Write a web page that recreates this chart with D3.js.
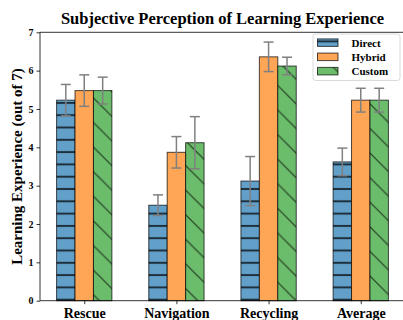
<!DOCTYPE html>
<html>
<head>
<meta charset="utf-8">
<script src="https://cdn.jsdelivr.net/npm/d3@7"></script>
<style>
  html, body { margin: 0; padding: 0; background: #fff; }
  svg { display: block; }
</style>
</head>
<body>
<svg id="chart" width="403" height="320"></svg>
<script>
const categories = ["Rescue", "Navigation", "Recycling", "Average"];
const seriesNames = ["Direct", "Hybrid", "Custom"];
const directValues = [5.23, 2.49, 3.12, 3.62];
const hybridValues = [5.48, 3.87, 6.36, 5.23];
const customValues = [5.48, 4.12, 6.12, 5.23];
const directErr = [0.41, 0.27, 0.64, 0.36];
const hybridErr = [0.41, 0.41, 0.385, 0.31];
const customErr = [0.35, 0.68, 0.23, 0.31];
const yTicks = [0, 1, 2, 3, 4, 5, 6, 7];
const titleText = "Subjective Perception of Learning Experience";
const yLabelText = "Learning Experience (out of 7)";

(function () {
const values = [directValues, hybridValues, customValues];
const errs = [directErr, hybridErr, customErr];
const colors = ["#62a0ca", "#ffa556", "#6bbc6b"];
const hatches = ["hatchH", null, "hatchD"];
const barW = 0.2;
const serif = "'Liberation Serif', 'Times New Roman', serif";

const svg = d3.select("#chart");
const pL = 40, pR = 405, pT = 32.3, pB = 300.7;

const x = d3.scaleLinear().domain([-0.48, 3.48]).range([pL, pR]);
const y = d3.scaleLinear().domain([0, 7]).range([pB, pT]);

// patterns
const defs = svg.append("defs");
const pH = defs.append("pattern").attr("id", "hatchH")
  .attr("patternUnits", "userSpaceOnUse").attr("width", 12.3).attr("height", 12.3)
  .attr("x", 0).attr("y", 4.5);
pH.append("line").attr("x1", -1).attr("x2", 13.3).attr("y1", 0).attr("y2", 0)
  .attr("stroke", "#000").attr("stroke-opacity", 0.7).attr("stroke-width", 2);
pH.append("line").attr("x1", -1).attr("x2", 13.3).attr("y1", 12.3).attr("y2", 12.3)
  .attr("stroke", "#000").attr("stroke-opacity", 0.7).attr("stroke-width", 2);

const pD = defs.append("pattern").attr("id", "hatchD")
  .attr("patternUnits", "userSpaceOnUse").attr("width", 24.6).attr("height", 24.6)
  .attr("x", 0).attr("y", 4.5);
[[0, 0, 24.6, 24.6], [-24.6, 0, 0, 24.6], [24.6, 0, 49.2, 24.6], [0, -24.6, 24.6, 0], [0, 24.6, 24.6, 49.2]].forEach(c => {
  pD.append("line").attr("x1", c[0]).attr("y1", c[1]).attr("x2", c[2]).attr("y2", c[3])
    .attr("stroke", "#000").attr("stroke-opacity", 0.7).attr("stroke-width", 1.1);
});

const plot = svg.append("g");

// bars
seriesNames.forEach((s, si) => {
  const off = (si - 1) * barW;
  const g = plot.append("g");
  g.selectAll("rect.face").data(values[si]).join("rect")
    .attr("x", (d, i) => x(i + off - barW / 2))
    .attr("width", x(barW) - x(0))
    .attr("y", d => y(d))
    .attr("height", d => y(0) - y(d))
    .attr("fill", colors[si]);
  if (hatches[si]) {
    g.selectAll("rect.hatch").data(values[si]).join("rect")
      .attr("x", (d, i) => x(i + off - barW / 2))
      .attr("width", x(barW) - x(0))
      .attr("y", d => y(d))
      .attr("height", d => y(0) - y(d))
      .attr("fill", "url(#" + hatches[si] + ")");
  }
  g.selectAll("rect.edge").data(values[si]).join("rect")
    .attr("x", (d, i) => x(i + off - barW / 2))
    .attr("width", x(barW) - x(0))
    .attr("y", d => y(d))
    .attr("height", d => y(0) - y(d))
    .attr("fill", "none")
    .attr("stroke", "#000").attr("stroke-opacity", 0.7).attr("stroke-width", 1);
});

// error bars
seriesNames.forEach((s, si) => {
  const off = (si - 1) * barW;
  const g = plot.append("g").attr("stroke", "#808080").attr("stroke-width", 1.5);
  values[si].forEach((v, i) => {
    const cx = x(i + off);
    const e = errs[si][i];
    g.append("line").attr("x1", cx).attr("x2", cx).attr("y1", y(v - e)).attr("y2", y(v + e));
    g.append("line").attr("x1", cx - 5).attr("x2", cx + 5).attr("y1", y(v - e)).attr("y2", y(v - e));
    g.append("line").attr("x1", cx - 5).attr("x2", cx + 5).attr("y1", y(v + e)).attr("y2", y(v + e));
  });
});

// axes
const yAxis = svg.append("g").attr("transform", `translate(${pL},0)`)
  .call(d3.axisLeft(y).tickValues(yTicks).tickFormat(d3.format("d")).tickSize(3.5).tickPadding(3));
yAxis.select(".domain").remove();
yAxis.selectAll("text").attr("font-family", serif).attr("font-weight", "bold").attr("font-size", 10).attr("fill", "#000");
yAxis.selectAll("line").attr("stroke", "#000").attr("stroke-width", 0.8);

const xAxis = svg.append("g").attr("transform", `translate(0,${pB})`)
  .call(d3.axisBottom(x).tickValues(d3.range(categories.length)).tickFormat(i => categories[i]).tickSize(3.5).tickPadding(4));
xAxis.select(".domain").remove();
xAxis.selectAll("text").attr("font-family", serif).attr("font-weight", "bold").attr("font-size", 14).attr("fill", "#000");
xAxis.selectAll("line").attr("stroke", "#000").attr("stroke-width", 0.8);

// spines
const sp = [[pL, pT, pL, pB], [pL, pB, pR, pB], [pL, pT, pR, pT], [pR, pT, pR, pB]];
sp.forEach(c => svg.append("line").attr("x1", c[0]).attr("y1", c[1]).attr("x2", c[2]).attr("y2", c[3])
  .attr("stroke", "#000").attr("stroke-width", 0.8));

// title
svg.append("text").attr("x", (pL + pR) / 2).attr("y", 23.5)
  .attr("text-anchor", "middle").attr("font-family", serif).attr("font-weight", "bold")
  .attr("font-size", 16.5).attr("fill", "#000").text(titleText);

// y label
svg.append("text").attr("transform", `translate(22,${(pT + pB) / 2}) rotate(-90)`)
  .attr("text-anchor", "middle").attr("font-family", serif).attr("font-weight", "bold")
  .attr("font-size", 15).attr("fill", "#000").text(yLabelText);

// legend
const lg = svg.append("g");
lg.append("rect").attr("x", 313).attr("y", 34).attr("width", 87).attr("height", 46.5)
  .attr("rx", 2.5).attr("fill", "#fff").attr("fill-opacity", 0.8)
  .attr("stroke", "#d0d0d0").attr("stroke-width", 0.8);
const legY = [42.7, 56.9, 71.2];
seriesNames.forEach((s, si) => {
  const yy = legY[si];
  lg.append("rect").attr("x", 317.5).attr("y", yy - 3.8).attr("width", 20.5).attr("height", 7.5)
    .attr("fill", colors[si]);
  if (hatches[si]) {
    lg.append("rect").attr("x", 317.5).attr("y", yy - 3.8).attr("width", 20.5).attr("height", 7.5)
      .attr("fill", "url(#" + hatches[si] + ")");
  }
  lg.append("rect").attr("x", 317.5).attr("y", yy - 3.8).attr("width", 20.5).attr("height", 7.5)
    .attr("fill", "none").attr("stroke", "#000").attr("stroke-opacity", 0.7).attr("stroke-width", 1);
  lg.append("text").attr("x", 351.5).attr("y", yy + 3.8)
    .attr("font-family", serif).attr("font-weight", "bold").attr("font-size", 11)
    .attr("fill", "#000").text(s);
});
})();
</script>
</body>
</html>
